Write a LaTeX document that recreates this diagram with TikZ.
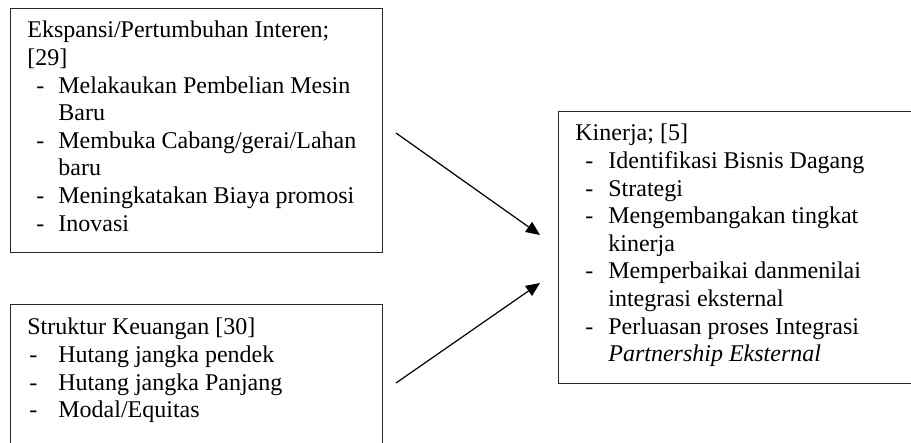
\documentclass[tikz,border=0pt]{standalone}
\usepackage{fontspec}
\setmainfont{Liberation Serif}
\usetikzlibrary{arrows.meta}
\begin{document}
\begin{tikzpicture}[x=0.5pt,y=-0.5pt,
 box/.style={draw=black!85,line width=0.65pt,anchor=north west,inner sep=0pt,minimum width=186pt},
 tl/.style={anchor=base west,inner sep=0pt,font=\fontsize{12}{13.8}\selectfont},
 conn/.style={line width=0.6pt,-{Triangle[length=7pt,width=6pt]}}]
\useasboundingbox (0,0) rectangle (911,443);
\fill[white] (0,0) rectangle (911,443);
\clip (0,0) rectangle (911,443);
% boxes
\node[box,minimum height=122pt] (b1) at (10,8) {};
\node[box,minimum height=85pt] (b2) at (10,304) {};
\node[box,minimum height=136pt] (b3) at (558,111) {};
% box 1 text
\node[tl] (t1a) at (27,38) {Ekspansi/Pertumbuhan Interen;};
\node[tl] (t1b) at (27,65.6) {[29]};
\node[tl] (d1c) at (36,93.2) {-};
\node[tl] (t1c) at (58,93.2) {Melakaukan Pembelian Mesin};
\node[tl] (t1d) at (58,120.8) {Baru};
\node[tl] (d1e) at (36,148.4) {-};
\node[tl] (t1e) at (58,148.4) {Membuka Cabang/gerai/Lahan};
\node[tl] (t1f) at (58,176) {baru};
\node[tl] (d1g) at (36,203.6) {-};
\node[tl] (t1g) at (58,203.6) {Meningkatakan Biaya promosi};
\node[tl] (d1h) at (36,231.2) {-};
\node[tl] (t1h) at (58,231.2) {Inovasi};
% box 2 text
\node[tl] (t2a) at (27,335) {Struktur Keuangan [30]};
\node[tl] (d2b) at (29,362.6) {-};
\node[tl] (t2b) at (58,362.6) {Hutang jangka pendek};
\node[tl] (d2c) at (29,390.2) {-};
\node[tl] (t2c) at (58,390.2) {Hutang jangka Panjang};
\node[tl] (d2d) at (29,417.8) {-};
\node[tl] (t2d) at (58,417.8) {Modal/Equitas};
% box 3 text
\node[tl] (t3a) at (575,141) {Kinerja; [5]};
\node[tl] (d3b) at (585,168.6) {-};
\node[tl] (t3b) at (608,168.6) {Identifikasi Bisnis Dagang};
\node[tl] (d3c) at (585,196.2) {-};
\node[tl] (t3c) at (608,196.2) {Strategi};
\node[tl] (d3d) at (585,223.8) {-};
\node[tl] (t3d) at (608,223.8) {Mengembangakan tingkat};
\node[tl] (t3e) at (608,251.4) {kinerja};
\node[tl] (d3f) at (585,279) {-};
\node[tl] (t3f) at (608,279) {Memperbaikai danmenilai};
\node[tl] (t3g) at (608,306.6) {integrasi eksternal};
\node[tl] (d3h) at (585,334.2) {-};
\node[tl] (t3h) at (608,334.2) {Perluasan proses Integrasi};
\node[tl] (t3i) at (608,361.8) {\itshape Partnership Eksternal};
% arrows
\coordinate (a1s) at (396,133);
\coordinate (a1e) at (540,235);
\coordinate (a2s) at (396,383);
\coordinate (a2e) at (540,283);
\draw[conn] (a1s) -- (a1e);
\draw[conn] (a2s) -- (a2e);
\end{tikzpicture}
\end{document}
